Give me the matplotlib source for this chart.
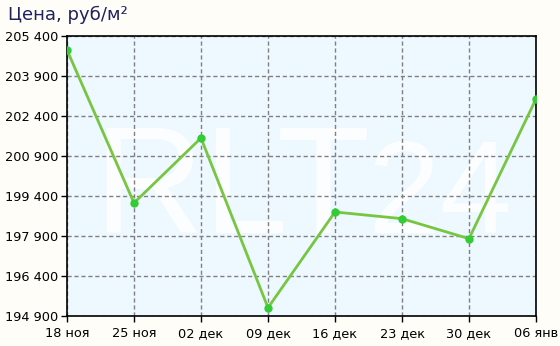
import numpy as np
import matplotlib.pyplot as plt

dates = ['18 ноя', '25 ноя', '02 дек', '09 дек', '16 дек', '23 дек', '30 дек', '06 янв']
price = [204875, 199140, 201575, 195210, 198800, 198550, 197800, 203040]
yticks = [194900, 196400, 197900, 199400, 200900, 202400, 203900, 205400]

W, H = 560, 346
fig = plt.figure(figsize=(W / 100, H / 100), dpi=100)
fig.patch.set_facecolor('#FFFDF7')
ax = fig.add_axes([67/W, 30/H, 469/W, 280/H])
ax.set_facecolor('#EEF8FF')

x = np.arange(len(dates))
# водяной знак
ax.text(232/W, 1 - 233/H, 'RLT', transform=fig.transFigure, ha='center', va='baseline',
        fontsize=110, family='Liberation Sans', color='white', alpha=0.85, zorder=0)
ax.text(440/W, 1 - 233/H, '24', transform=fig.transFigure, ha='center', va='baseline',
        fontsize=94, family='Liberation Sans', color='white', alpha=0.85, zorder=0)

ax.plot(x, price, color='#77C642', lw=2, zorder=3)
ax.plot(x, price, 'o', color='#33CC33', ms=5, zorder=4)

ax.set_xlim(0, len(dates) - 1)
ax.set_ylim(yticks[0], yticks[-1])
ax.set_xticks(x)
ax.set_xticklabels(dates)
ax.set_yticks(yticks)
ax.set_yticklabels([f'{v:,}'.replace(',', ' ') for v in yticks])
ax.grid(True, color='#808080', ls=(0, (3, 2)), lw=1, zorder=1)
ax.set_axisbelow(True)
for s in ax.spines.values():
    s.set_color('black')
    s.set_linewidth(1.2)
ax.tick_params(labelsize=9.3, colors='black', length=4, width=1, pad=2)
ax.tick_params(axis='x', pad=4)

fig.text(8/W, 1 - 15/H, 'Цена, руб/м²', fontsize=13, color='#1F2160', va='center', ha='left')

fig.savefig('out.png', dpi=100, facecolor=fig.get_facecolor())
